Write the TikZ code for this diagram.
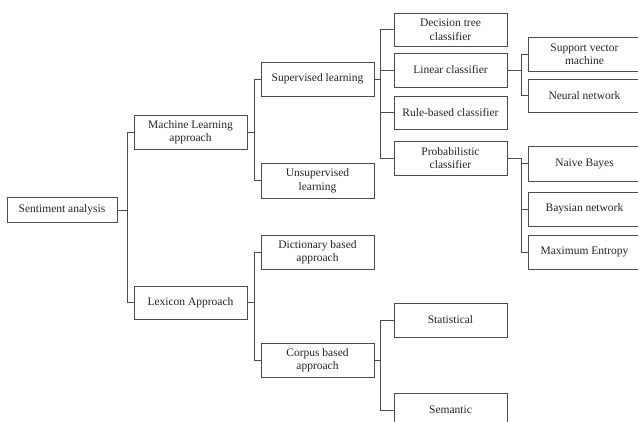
\documentclass[tikz,border=0pt]{standalone}
\usepackage{fontspec}
\setmainfont{Liberation Serif}
\begin{document}
\begin{tikzpicture}[x=1pt,y=-1pt,
  box/.style={draw=black!70, line width=0.9pt, fill=white, text=black!85,
    minimum width=113pt, minimum height=34pt, align=center, inner sep=1pt,
    font=\fontsize{11.5}{13.5}\selectfont},
  link/.style={draw=black!70, line width=0.9pt}]
\useasboundingbox (0,0) rectangle (638,421);
\clip (0,0) rectangle (638,421);
\fill[white] (0,0) rectangle (638,421);
% level 0
\node[box, minimum width=110pt, minimum height=25pt] (sa) at (62,210) {Sentiment analysis};
% level 1
\node[box] (ml) at (190.5,132) {Machine Learning\\approach};
\node[box, minimum height=33pt] (lex) at (190.5,302.5) {Lexicon Approach};
% level 2
\node[box] (sup) at (317.5,79) {Supervised learning};
\node[box, minimum height=35pt] (unsup) at (317.5,180.5) {Unsupervised\\learning};
\node[box] (dict) at (317.5,252) {Dictionary based\\approach};
\node[box] (corp) at (317.5,360) {Corpus based\\approach};
% level 3
\node[box, minimum height=33pt] (dt) at (450.5,29.5) {Decision tree\\classifier};
\node[box] (lin) at (450.5,70) {Linear classifier};
\node[box, minimum height=33pt] (rule) at (450.5,112.5) {Rule-based classifier};
\node[box] (prob) at (450.5,158) {Probabilistic\\classifier};
\node[box] (stat) at (450.5,320) {Statistical};
\node[box] (sem) at (450.5,410) {Semantic};
% level 4
\node[box] (svm) at (584.5,54) {Support vector\\machine};
\node[box, minimum height=33pt] (nn) at (584.5,95.5) {Neural network};
\node[box, minimum height=35pt] (nb) at (584.5,163.5) {Naive Bayes};
\node[box] (bn) at (584.5,209) {Baysian network};
\node[box] (me) at (584.5,252) {Maximum Entropy};
% connectors
\foreach \c in {ml,lex}
  \draw[link] (sa.east) -- ++(10,0) |- (\c.west);
\foreach \c in {sup,unsup}
  \draw[link] (ml.east) -- ++(7,0) |- (\c.west);
\foreach \c in {dict,corp}
  \draw[link] (lex.east) -- ++(7,0) |- (\c.west);
\foreach \c in {dt,lin,rule,prob}
  \draw[link] (sup.east) -- ++(6,0) |- (\c.west);
\foreach \c in {stat,sem}
  \draw[link] (corp.east) -- ++(6,0) |- (\c.west);
\foreach \c in {svm,nn}
  \draw[link] (lin.east) -- ++(14,0) |- (\c.west);
\foreach \c in {nb,bn,me}
  \draw[link] (prob.east) -- ++(14,0) |- (\c.west);
\end{tikzpicture}
\end{document}
